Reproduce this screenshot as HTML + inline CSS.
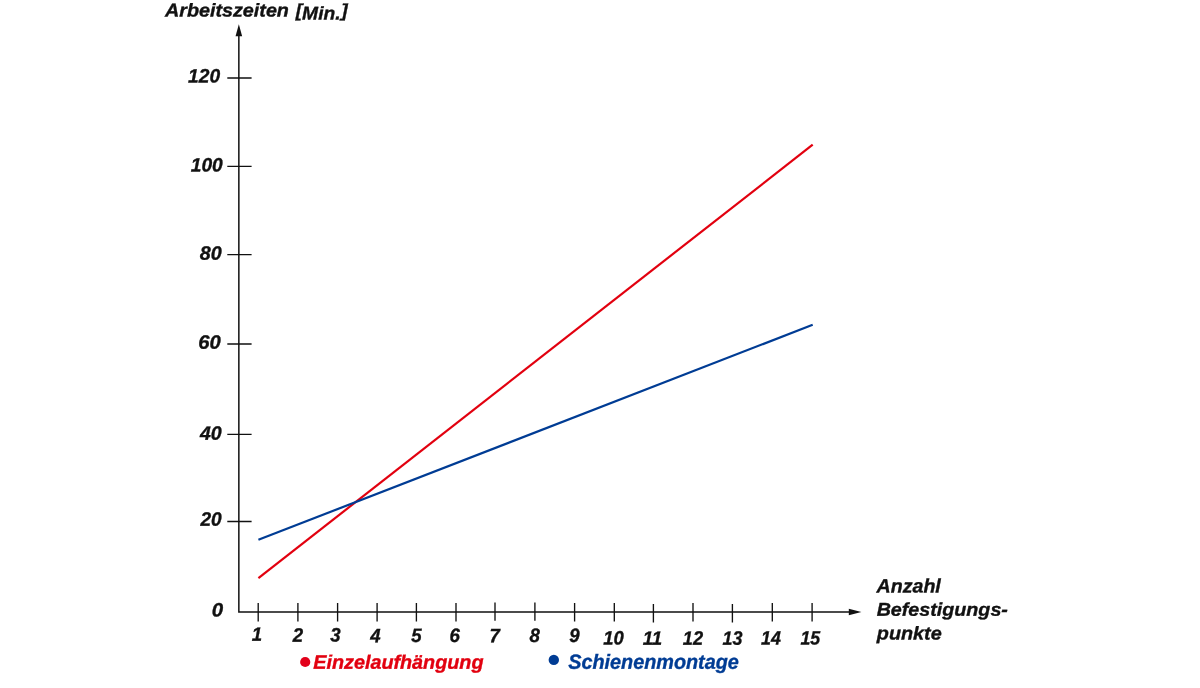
<!DOCTYPE html>
<html lang="de">
<head>
<meta charset="utf-8">
<title>Arbeitszeiten</title>
<style>
html,body{margin:0;padding:0;background:#fff;}
body{width:1200px;height:688px;overflow:hidden;}
svg{display:block;}
text{font-family:"Liberation Sans",Arial,Helvetica,sans-serif;font-weight:bold;font-style:italic;font-size:18.5px;fill:#111111;stroke:#111111;stroke-width:0.35px;}
.ax{stroke:#111;stroke-width:1.5;fill:none;}
.tk{stroke:#111;stroke-width:1.35;fill:none;}
text.r{fill:#e2000f;stroke:#e2000f;}
text.b{fill:#003c94;stroke:#003c94;}
</style>
</head>
<body>
<svg width="1200" height="688" viewBox="0 0 1200 688">
<rect width="1200" height="688" fill="#fff"/>
<path class="ax" d="M238.85 34V612.05H850"/>
<path d="M238.85 24.200L235.550 36.200H242.150Z" fill="#111"/>
<path d="M861.400 612.05L848.800 608.75V615.350Z" fill="#111"/>
<path class="tk" d="M227.3 78.0H251.6M227.3 166.3H251.6M227.3 254.6H251.6M227.3 344.0H251.6M227.3 434.4H251.6M227.3 521.5H251.6"/>
<path class="tk" d="M258.2 603V621.4M297.9 603V621.4M337.6 603V621.4M377.1 603V621.4M416.4 603V621.4M456.0 603V621.4M495.0 602.4V620.7M534.9 602.4V620.7M574.6 603V621.4M614.3 603V621.4M653.4 604V622.6M693.0 603V621.4M732.4 604V622.6M772.3 603V621.4M812.1 603V621.4"/>
<path d="M258.4 578.1L812.7 144.7" stroke="#e2000f" stroke-width="2.2" fill="none"/>
<path d="M258.4 539.8L812.7 324.8" stroke="#003c94" stroke-width="2.2" fill="none"/>
<text transform="translate(165.08 16.45) rotate(0.03) scale(1.0669 1)">Arbeitszeiten</text>
<text transform="translate(296.45 19.45) rotate(0.03) scale(1.0405 1)"><tspan dx="-0.7" dy="-2.7">[</tspan><tspan dy="2.7">Min.</tspan><tspan dx="0.7" dy="-2.7">]</tspan></text>
<text style="font-size:19.4px" transform="translate(188.08 82.45) rotate(0.03) scale(0.9887 1)">120</text>
<text style="font-size:19.4px" transform="translate(190.78 171.45) rotate(0.03) scale(0.9887 1)">100</text>
<text style="font-size:19.4px" transform="translate(199.79 259.75) rotate(0.03) scale(1.0168 1)">80</text>
<text style="font-size:19.4px" transform="translate(198.26 348.75) rotate(0.03) scale(1.0415 1)">60</text>
<text style="font-size:19.4px" transform="translate(199.96 439.75) rotate(0.03) scale(1.0091 1)">40</text>
<text style="font-size:19.4px" transform="translate(200.49 525.75) rotate(0.03) scale(0.9844 1)">20</text>
<text style="font-size:19.4px" transform="translate(211.72 616.45) rotate(0.03) scale(1.0539 1)">0</text>
<text style="font-size:19.4px" transform="translate(251.82 640.75) rotate(0.03) scale(0.9600 1)">1</text>
<text style="font-size:19.4px" transform="translate(292.71 641.75) rotate(0.03) scale(0.9600 1)">2</text>
<text style="font-size:19.4px" transform="translate(330.35 641.45) rotate(0.03) scale(0.9600 1)">3</text>
<text style="font-size:19.4px" transform="translate(370.16 642.25) rotate(0.03) scale(0.9600 1)">4</text>
<text style="font-size:19.4px" transform="translate(411.17 642.05) rotate(0.03) scale(0.9600 1)">5</text>
<text style="font-size:19.4px" transform="translate(449.49 642.05) rotate(0.03) scale(0.9600 1)">6</text>
<text style="font-size:19.4px" transform="translate(489.61 642.25) rotate(0.03) scale(0.9600 1)">7</text>
<text style="font-size:19.4px" transform="translate(529.42 642.05) rotate(0.03) scale(0.9600 1)">8</text>
<text style="font-size:19.4px" transform="translate(569.15 642.05) rotate(0.03) scale(0.9600 1)">9</text>
<text style="font-size:19.4px" transform="translate(603.19 644.45) rotate(0.03) scale(0.9519 1)">10</text>
<text style="font-size:19.4px" transform="translate(642.79 644.65) rotate(0.03) scale(0.9643 1)">11</text>
<text style="font-size:19.4px" transform="translate(682.79 644.65) rotate(0.03) scale(0.9387 1)">12</text>
<text style="font-size:19.4px" transform="translate(722.50 644.75) rotate(0.03) scale(0.9248 1)">13</text>
<text style="font-size:19.4px" transform="translate(761.10 644.45) rotate(0.03) scale(0.9192 1)">14</text>
<text style="font-size:19.4px" transform="translate(800.50 644.45) rotate(0.03) scale(0.9154 1)">15</text>
<text style="font-size:19.3px" transform="translate(876.57 592.55) rotate(0.03) scale(1.0162 1)">Anzahl</text>
<text transform="translate(876.65 615.65) rotate(0.03) scale(1.0648 1)">Befestigungs-</text>
<text transform="translate(876.82 639.45) rotate(0.03) scale(1.0702 1)">punkte</text>
<text class="r" style="font-size:19.5px" transform="translate(313.25 668.75) rotate(0.03) scale(1.0152 1)">Einzelaufhängung</text>
<text class="b" style="font-size:20.5px" transform="translate(568.21 668.75) rotate(0.03) scale(0.9667 1)">Schienenmontage</text>
<circle cx="305.2" cy="662" r="5.1" fill="#e2001a"/>
<circle cx="553.8" cy="659.9" r="5.2" fill="#003c94"/>
</svg>
</body>
</html>
